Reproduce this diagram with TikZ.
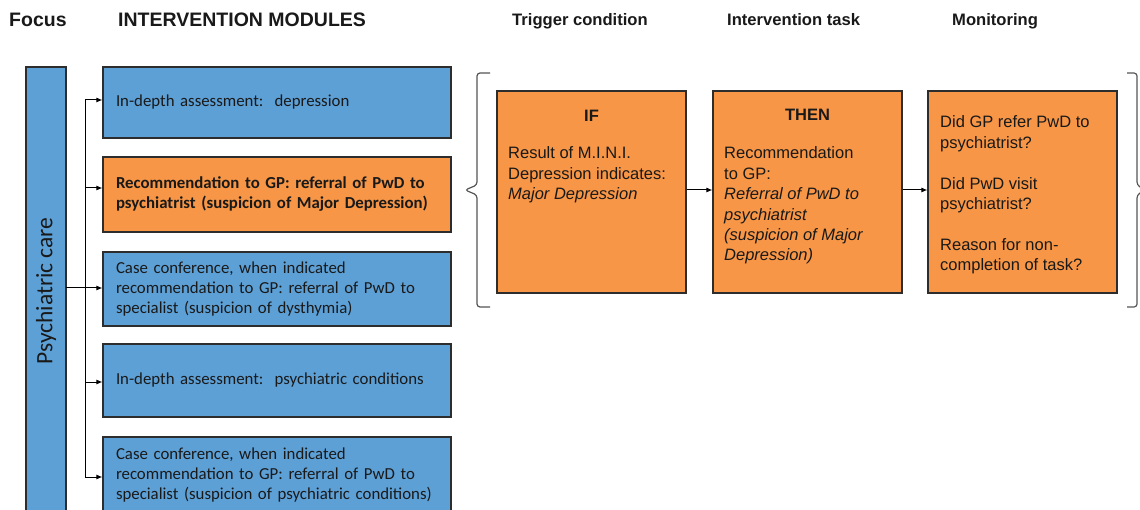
\documentclass[tikz,border=0pt]{standalone}
\usepackage{fontspec}
\setmainfont{Liberation Sans}
\newfontfamily\calfont{Carlito}
\usetikzlibrary{arrows.meta}
\definecolor{boxblue}{RGB}{93,160,214}
\definecolor{boxorange}{RGB}{247,150,70}
\definecolor{edge}{RGB}{45,45,45}
\definecolor{ink}{RGB}{25,25,25}
\definecolor{brk}{RGB}{85,85,85}
\begin{document}
\begin{tikzpicture}[x=1pt,y=-1pt,
  modbox/.style={draw=edge,line width=1.1pt,minimum width=348pt,inner xsep=0pt,
     text width=322pt,align=left,text=ink,font=\calfont\fontsize{16.8}{20}\selectfont},
  bluebox/.style={modbox,fill=boxblue},
  orbox/.style={modbox,fill=boxorange},
  rbox/.style={draw=edge,line width=1.1pt,fill=boxorange,minimum width=189pt,minimum height=202pt,inner sep=0pt},
  rtext/.style={anchor=north west,inner sep=0pt,align=left,text=ink,font=\fontsize{16.5}{20.4}\selectfont},
  rhead/.style={anchor=base,inner sep=0pt,text=ink,font=\bfseries\fontsize{16.5}{20}\selectfont},
  lhead/.style={anchor=base west,inner sep=0pt,text=ink,font=\bfseries\fontsize{19.5}{22}\selectfont},
  thead/.style={anchor=base west,inner sep=0pt,text=ink,font=\bfseries\fontsize{16.6}{20}\selectfont},
  arr/.style={draw=black,line width=1pt,-{Latex[length=6pt,width=5pt]}},
  conn/.style={draw=black,line width=1pt},
  brace/.style={draw=brk,line width=1.2pt,rounded corners=3pt}]
\useasboundingbox (0,0) rectangle (1140,510);

% headers
\node[lhead] (hfocus) at (9,27) {Focus};
\node[lhead] (hmod) at (118,27) {INTERVENTION MODULES};
\node[thead] (htrig) at (512,26) {Trigger condition};
\node[thead] (htask) at (727,26) {Intervention task};
\node[thead] (hmon) at (952,26) {Monitoring};

% focus box
\node[draw=edge,line width=1.1pt,fill=boxblue,minimum width=448pt,minimum height=40pt,inner sep=0pt,
      rotate=90,text=ink,font=\calfont\fontsize{23.5}{26}\selectfont] (care) at (46,291) {Psychiatric care};

% modules
\node[bluebox,minimum height=71pt] (m1) at (277,102.5) {In-depth assessment:\ \ depression};
\node[orbox,minimum height=75pt] (m2) at (277,194.5) {\bfseries Recommendation to GP: referral of PwD to\\ \bfseries psychiatrist (suspicion of Major Depression)};
\node[bluebox,minimum height=74pt] (m3) at (277,289) {Case conference, when indicated\\recommendation to GP: referral of PwD to\\specialist (suspicion of dysthymia)};
\node[bluebox,minimum height=73pt] (m4) at (277,380.5) {In-depth assessment:\ \ psychiatric conditions};
\node[bluebox,minimum height=76pt] (m5) at (277,475) {Case conference, when indicated\\recommendation to GP: referral of PwD to\\specialist (suspicion of psychiatric conditions)};

% bus connectors
\coordinate (b1) at (85,100);
\coordinate (b2) at (85,188);
\coordinate (b3) at (85,288);
\coordinate (b4) at (85,382);
\coordinate (b5) at (85,477);
\coordinate (cr) at (66,288);
\draw[conn] (b1) -- (b5);
\draw[conn] (cr) -- (b3);
\draw[arr] (b1) -- (b1 -| m1.west);
\draw[arr] (b2) -- (b2 -| m2.west);
\draw[arr] (b3) -- (b3 -| m3.west);
\draw[arr] (b4) -- (b4 -| m4.west);
\draw[arr] (b5) -- (b5 -| m5.west);

% right boxes
\node[rbox] (ifb) at (591.5,192) {};
\node[rbox] (thenb) at (807.5,192) {};
\node[rbox] (monb) at (1022.5,192) {};

\node[rhead] (iflbl) at (591.5,122) {IF};
\node[rhead] (thenlbl) at (807.5,121) {THEN};
\node[rtext] (iftxt) at (508,144.5) {\strut Result of M.I.N.I.\\Depression indicates:\\\itshape Major Depression};
\node[rtext] (thentxt) at (724,144.5) {\strut Recommendation\\to GP:\\\itshape Referral of PwD to\\\itshape psychiatrist\\\itshape (suspicion of Major\\\itshape Depression)};
\node[rtext] (montxt) at (940,113.5) {\strut Did GP refer PwD to\\psychiatrist?\\[20.4pt]Did PwD visit\\psychiatrist?\\[20.4pt]Reason for non-\\completion of task?};

\draw[arr] (ifb.east |- 0,190) -- (thenb.west |- 0,190);
\draw[arr] (thenb.east |- 0,190) -- (monb.west |- 0,190);

% brackets
\coordinate (lbt) at (490,73);
\coordinate (lbb) at (490,307);
\coordinate (lbtip) at (465,190);
\draw[brace] (lbt) -- (477,73) -- (477,185) -- (lbtip) -- (477,195) -- (477,307) -- (lbb);
\coordinate (rbt) at (1127,73);
\coordinate (rbb) at (1127,307);
\coordinate (rbtip) at (1145,190);
\draw[brace] (rbt) -- (1137,73) -- (1137,185) -- (rbtip) -- (1137,195) -- (1137,307) -- (rbb);
\end{tikzpicture}
\end{document}
